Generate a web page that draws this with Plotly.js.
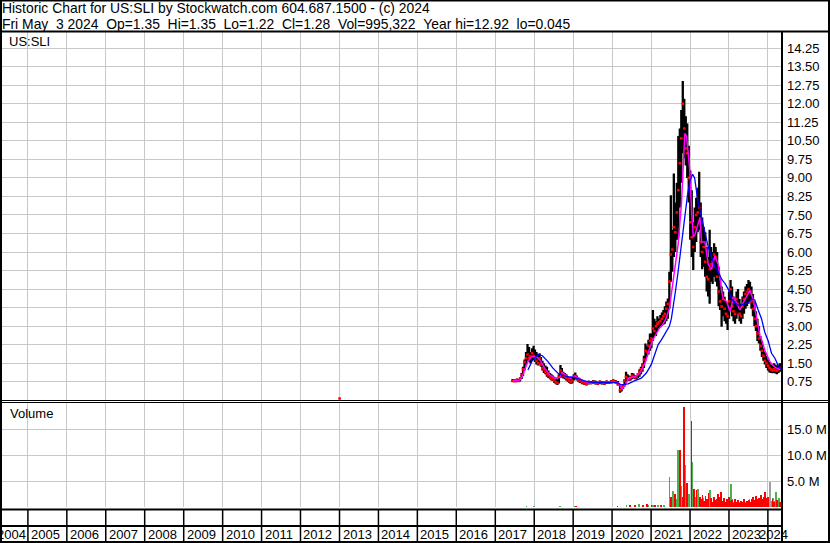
<!DOCTYPE html>
<html><head><meta charset="utf-8">
<script src="https://cdn.plot.ly/plotly-3.0.1.min.js"></script>
<style>html,body{margin:0;padding:0;background:#fff;overflow:hidden}#chart{width:830px;height:543px}</style>
</head><body><div id="chart"></div>
<script>
// ---------- text ----------
const headerLine1 = 'Historic Chart for US:SLI by Stockwatch.com 604.687.1500 - (c) 2024';
const headerLine2 = 'Fri May  3 2024  Op=1.35  Hi=1.35  Lo=1.22  Cl=1.28  Vol=995,322  Year hi=12.92  lo=0.045';
const symbolLabel = 'US:SLI';
const volumeLabel = 'Volume';
const yearLabels = ['2004','2005','2006','2007','2008','2009','2010','2011','2012','2013','2014','2015','2016','2017','2018','2019','2020','2021','2022','2023','2024'];
const xStart = '2004-05-03';
const xEnd = '2024-05-03';
const priceTicks = [0.75,1.5,2.25,3,3.75,4.5,5.25,6,6.75,7.5,8.25,9,9.75,10.5,11.25,12,12.75,13.5,14.25];
const volTicks = [5e6,10e6,15e6];
const volTickText = ['5.0 M','10.0 M','15.0 M'];

// ---------- price bars ----------
const barDates = ['2017-06-12','2017-06-26','2017-07-10','2017-07-24','2017-08-07','2017-08-21','2017-09-05','2017-09-18','2017-10-02','2017-10-16','2017-10-30','2017-11-13','2017-11-27','2017-12-11','2017-12-26',
'2018-01-08','2018-01-22','2018-02-05','2018-02-20','2018-03-05','2018-03-19','2018-04-02','2018-04-16','2018-04-30','2018-05-14','2018-05-29','2018-06-11','2018-06-25','2018-07-09','2018-07-23','2018-08-06','2018-08-20','2018-09-04','2018-09-17','2018-10-01','2018-10-15','2018-10-29','2018-11-12','2018-11-26','2018-12-10','2018-12-24',
'2019-01-07','2019-01-21','2019-02-04','2019-02-19','2019-03-04','2019-03-25','2019-04-15','2019-05-06','2019-05-27','2019-06-17','2019-07-08','2019-07-29','2019-08-19','2019-09-09','2019-09-30','2019-10-21','2019-11-11','2019-12-02','2019-12-23',
'2020-01-13','2020-02-03','2020-02-24','2020-03-16','2020-03-30','2020-04-13','2020-04-27','2020-05-11','2020-05-25','2020-06-08','2020-06-22','2020-07-06','2020-07-20','2020-08-03','2020-08-17','2020-08-31','2020-09-14','2020-09-28','2020-10-12','2020-10-26','2020-11-09','2020-11-23','2020-12-07','2020-12-21',
'2021-01-04','2021-01-18','2021-02-01','2021-02-15','2021-03-01','2021-03-15','2021-03-29','2021-04-12','2021-04-26','2021-05-10','2021-05-24','2021-06-07','2021-06-21','2021-07-05','2021-07-19','2021-08-02','2021-08-16','2021-08-30','2021-09-13','2021-09-27','2021-10-11','2021-10-25','2021-11-08','2021-11-22','2021-12-06','2021-12-20',
'2022-01-03','2022-01-17','2022-01-31','2022-02-14','2022-02-28','2022-03-14','2022-03-28','2022-04-11','2022-04-25','2022-05-09','2022-05-23','2022-06-06','2022-06-20','2022-07-04','2022-07-18','2022-08-01','2022-08-15','2022-08-29','2022-09-12','2022-09-26','2022-10-10','2022-10-24','2022-11-07','2022-11-21','2022-12-05','2022-12-19',
'2023-01-02','2023-01-16','2023-01-30','2023-02-13','2023-02-27','2023-03-13','2023-03-27','2023-04-10','2023-04-24','2023-05-08','2023-05-22','2023-06-05','2023-06-19','2023-07-03','2023-07-17','2023-07-31','2023-08-14','2023-08-28','2023-09-11','2023-09-25','2023-10-09','2023-10-23','2023-11-06','2023-11-20','2023-12-04','2023-12-18',
'2024-01-02','2024-01-16','2024-01-30','2024-02-13','2024-02-27','2024-03-12','2024-03-26','2024-04-09','2024-04-23','2024-05-03'];
const barHigh = [0.86,0.85,0.84,0.88,0.86,0.92,1.10,1.35,1.65,1.95,2.28,2.15,1.95,2.10,2.20,
2.05,1.95,1.85,1.90,1.75,1.60,1.50,1.40,1.35,1.20,1.10,1.05,1.00,0.95,0.90,0.85,1.05,1.43,1.30,1.15,1.10,1.05,0.98,0.92,0.85,0.90,
1.05,1.12,1.00,0.92,0.88,0.82,0.78,0.75,0.80,0.78,0.82,0.80,0.76,0.80,0.78,0.76,0.80,0.78,0.82,
0.85,0.82,0.78,0.62,0.55,0.65,0.85,1.15,1.05,1.00,0.98,1.10,1.08,1.00,1.02,1.10,1.25,1.35,1.50,1.80,2.30,2.20,2.45,2.70,
2.70,3.65,3.30,3.20,3.40,3.30,3.45,3.55,3.65,3.80,4.00,4.12,5.20,8.30,6.90,9.18,8.00,8.80,10.70,11.00,11.75,12.92,12.20,11.50,11.20,10.30,
9.30,8.50,7.20,7.80,8.20,8.60,9.25,8.00,7.40,7.00,6.80,6.20,5.80,6.90,6.20,6.00,6.35,6.20,6.00,5.40,4.87,4.60,4.40,4.19,4.00,3.90,
4.40,4.87,4.60,4.20,4.00,4.40,4.50,4.10,3.90,4.20,4.40,4.60,4.70,4.87,4.80,4.60,4.30,4.00,3.60,3.30,3.00,2.60,2.40,2.10,1.95,1.80,
1.65,1.55,1.45,1.40,1.50,1.45,1.40,1.45,1.50,1.35];
const barLow = [0.74,0.73,0.74,0.75,0.74,0.76,0.86,0.98,1.20,1.45,1.60,1.55,1.50,1.60,1.65,
1.55,1.45,1.40,1.45,1.35,1.20,1.10,1.05,0.95,0.90,0.85,0.80,0.78,0.70,0.65,0.62,0.68,0.90,0.95,0.88,0.85,0.80,0.75,0.70,0.66,0.68,
0.80,0.85,0.80,0.75,0.70,0.65,0.62,0.60,0.64,0.65,0.66,0.64,0.62,0.65,0.64,0.62,0.66,0.66,0.68,
0.70,0.68,0.60,0.30,0.35,0.45,0.55,0.75,0.80,0.78,0.80,0.85,0.88,0.85,0.85,0.90,0.95,1.05,1.15,1.30,1.60,1.75,1.85,2.00,
2.10,2.40,2.60,2.60,2.80,2.90,2.95,3.00,3.05,3.10,3.20,3.30,3.70,4.80,5.20,5.80,6.00,6.50,6.60,7.80,8.80,10.00,9.80,9.50,9.00,8.00,
6.50,5.80,5.27,6.00,6.40,6.80,6.90,5.80,5.30,5.40,5.00,4.40,4.20,3.90,4.80,4.70,5.00,4.80,4.60,3.80,3.65,2.97,3.40,3.20,3.10,2.84,
3.30,3.60,3.40,3.20,3.10,3.30,3.50,3.20,3.10,3.30,3.50,3.70,3.80,3.90,4.00,3.70,3.40,3.00,2.80,2.40,2.30,2.00,1.75,1.60,1.45,1.30,
1.20,1.12,1.10,1.09,1.10,1.08,1.05,1.10,1.15,1.22];
const barClose = [0.78,0.80,0.77,0.82,0.78,0.88,1.02,1.25,1.55,1.70,1.85,1.72,1.78,1.90,1.80,
1.70,1.60,1.50,1.70,1.45,1.30,1.25,1.15,1.05,1.00,0.92,0.88,0.85,0.80,0.72,0.70,0.95,1.20,1.10,1.00,0.95,0.90,0.85,0.78,0.72,0.80,
0.95,0.98,0.88,0.82,0.78,0.72,0.68,0.66,0.72,0.70,0.74,0.70,0.68,0.74,0.70,0.68,0.74,0.72,0.76,
0.78,0.74,0.66,0.40,0.48,0.58,0.80,0.95,0.88,0.85,0.92,1.00,0.95,0.92,0.95,1.05,1.15,1.25,1.40,1.65,2.00,1.95,2.20,2.40,
2.50,2.90,2.80,3.00,3.10,3.15,3.20,3.30,3.40,3.50,3.70,3.90,4.80,5.90,6.10,7.00,6.80,7.60,8.50,9.60,10.60,12.00,11.00,10.20,10.00,9.00,
7.20,6.60,6.20,7.00,7.50,7.60,7.80,6.40,6.00,6.20,5.60,5.00,4.90,5.30,5.50,5.60,5.90,5.80,5.00,4.40,4.00,3.80,4.10,3.70,3.50,3.40,
4.00,4.50,3.80,3.60,3.50,4.10,3.90,3.50,3.40,3.80,4.10,4.30,4.40,4.50,4.40,4.00,3.70,3.30,3.00,2.70,2.50,2.20,2.00,1.80,1.60,1.50,
1.40,1.30,1.25,1.20,1.25,1.20,1.18,1.25,1.30,1.28];
const strayDates = ['2013-01-02'];
const strayClose = [0.07];

// ---------- moving averages ----------
const maShortDates = ['2017-06-15','2017-07-20','2017-08-20','2017-09-10','2017-10-05','2017-11-03','2017-12-05','2018-01-22','2018-02-22','2018-04-10','2018-05-27','2018-07-13','2018-08-29','2018-09-20','2018-10-15','2018-12-01','2019-01-18','2019-03-22','2019-05-24','2019-07-26','2019-09-27','2019-11-29','2020-01-15','2020-03-02','2020-04-03','2020-05-04','2020-06-05','2020-07-06','2020-08-07','2020-09-23','2020-11-09','2020-12-11','2021-01-12','2021-02-13','2021-03-17','2021-04-18','2021-05-20','2021-06-21','2021-07-17','2021-08-08','2021-09-11','2021-10-13','2021-10-28','2021-11-13','2021-11-29','2021-12-15','2021-12-30','2022-01-15','2022-01-31','2022-02-16','2022-03-03','2022-04-04','2022-04-19','2022-05-21','2022-06-21','2022-07-22','2022-08-22','2022-09-22','2022-10-08','2022-10-24','2022-11-09','2022-11-24','2022-12-10','2022-12-25','2023-01-10','2023-01-25','2023-02-10','2023-02-25','2023-03-13','2023-04-13','2023-05-15','2023-06-16','2023-07-17','2023-08-18','2023-09-02','2023-09-18','2023-10-03','2023-10-19','2023-11-04','2023-12-05','2024-01-21','2024-03-08','2024-04-24','2024-05-03'];
const maShort = [0.80,0.79,0.82,0.95,1.25,1.56,1.76,1.76,1.63,1.29,1.02,0.89,0.92,1.12,1.05,0.88,0.98,0.82,0.70,0.72,0.72,0.72,0.76,0.70,0.45,0.62,0.90,0.93,0.97,1.12,1.55,2.00,2.40,2.65,2.90,3.05,3.30,3.70,4.60,5.30,6.30,8.00,9.50,10.80,10.70,10.00,9.30,7.70,6.60,6.70,6.90,7.40,6.40,6.40,5.50,5.30,5.85,5.50,5.00,4.40,4.10,4.06,4.00,3.80,3.60,3.80,4.19,4.10,3.95,3.65,3.95,4.19,4.45,4.05,3.65,3.20,2.97,2.60,2.44,2.00,1.55,1.33,1.25,1.28];
const maLongDates = ['2017-11-03','2017-12-13','2018-02-06','2018-03-19','2018-05-10','2018-06-25','2018-08-12','2018-09-27','2018-11-13','2019-01-11','2019-03-18','2019-05-19','2019-07-20','2019-09-21','2019-12-24','2020-02-09','2020-03-28','2020-05-30','2020-07-28','2020-10-01','2020-11-17','2021-01-03','2021-02-04','2021-03-08','2021-04-09','2021-05-26','2021-06-22','2021-07-10','2021-07-29','2021-08-17','2021-09-11','2021-10-13','2021-11-13','2021-12-08','2022-01-01','2022-01-25','2022-02-13','2022-03-18','2022-04-19','2022-05-20','2022-06-21','2022-07-22','2022-08-22','2022-09-22','2022-10-24','2022-11-24','2022-12-25','2023-01-25','2023-02-25','2023-03-28','2023-04-28','2023-05-30','2023-06-30','2023-07-31','2023-08-31','2023-10-02','2023-11-02','2023-12-03','2024-01-04','2024-02-04','2024-03-07','2024-04-07','2024-05-02'];
const maLong = [1.22,1.60,1.85,1.80,1.56,1.30,1.09,1.00,0.95,0.92,0.82,0.74,0.71,0.71,0.71,0.72,0.62,0.66,0.78,0.89,1.10,1.45,1.85,2.25,2.45,2.80,3.00,3.30,3.80,4.40,5.20,6.40,7.40,8.30,8.90,9.15,9.00,8.00,7.40,6.80,6.20,5.80,5.40,5.20,4.90,4.73,4.50,4.10,3.95,3.85,3.85,3.90,3.95,4.10,4.06,3.65,3.30,2.75,2.40,1.90,1.70,1.40,1.25];

// ---------- volume ----------
const volUpDates = ['2017-10-20','2018-01-02','2018-09-01','2019-01-15','2020-05-15','2020-09-10','2020-12-01','2021-01-20','2021-03-10','2021-05-01','2021-06-23','2021-07-27','2021-08-27','2021-09-12','2021-10-13','2021-11-19','2021-12-20','2022-01-24','2022-02-21','2022-03-18',
'2022-04-21','2022-05-05','2022-05-19','2022-06-02','2022-06-16','2022-07-07','2022-07-21','2022-08-04','2022-08-18','2022-09-01','2022-09-15','2022-09-29','2022-10-13','2022-10-27','2022-11-10','2022-11-24','2022-12-08','2022-12-22','2023-01-05','2023-01-20','2023-01-26','2023-02-09','2023-02-23','2023-03-09','2023-03-23','2023-04-06','2023-04-20','2023-05-04','2023-05-18','2023-06-01','2023-06-15','2023-06-29','2023-07-13','2023-07-27','2023-08-10','2023-08-24','2023-09-07','2023-09-21','2023-10-05','2023-10-19','2023-11-02','2023-11-16','2023-11-30','2023-12-14','2023-12-28','2024-01-11','2024-02-06','2024-02-20','2024-03-06','2024-03-15','2024-04-04','2024-04-15','2024-05-02'];
const volUp = [0.2,0.2,0.2,0.15,0.3,0.56,0.3,0.35,0.3,0.4,5.8,3.0,1.5,11.0,4.0,8.1,2.5,8.7,2.0,3.5,
1.0,1.8,0.8,1.2,1.0,3.3,1.4,0.9,1.5,0.8,1.1,0.7,1.3,0.9,1.6,0.8,1.0,0.7,1.2,4.4,1.6,1.0,1.3,0.8,1.4,0.9,1.1,0.7,1.3,1.0,0.6,1.2,1.6,1.0,0.8,1.2,0.9,1.3,0.7,1.0,0.8,1.1,0.9,1.2,0.8,1.4,1.1,1.8,1.2,2.9,1.0,1.8,0.9];
const volDownDates = ['2019-01-25','2020-02-20','2020-06-20','2020-08-05','2020-10-15','2020-11-20','2021-01-05','2021-02-10','2021-04-01','2021-07-10','2021-08-12','2021-09-27','2021-10-25','2021-11-06','2021-12-03','2022-01-15','2022-02-09','2022-03-03','2022-04-03',
'2022-04-14','2022-04-28','2022-05-12','2022-05-26','2022-06-09','2022-06-23','2022-07-14','2022-07-28','2022-08-11','2022-08-25','2022-09-08','2022-09-22','2022-10-06','2022-10-20','2022-11-03','2022-11-17','2022-12-01','2022-12-15','2022-12-29','2023-01-12','2023-02-02','2023-02-16','2023-03-02','2023-03-16','2023-03-30','2023-04-13','2023-04-27','2023-05-11','2023-05-25','2023-06-08','2023-06-22','2023-07-06','2023-07-20','2023-08-03','2023-08-17','2023-08-31','2023-09-14','2023-09-28','2023-10-12','2023-10-26','2023-11-09','2023-11-23','2023-12-07','2023-12-21','2024-01-04','2024-01-18','2024-02-13','2024-02-27','2024-03-28','2024-04-25'];
const volDown = [0.15,0.2,0.35,0.4,0.3,0.5,0.4,0.3,0.3,2.0,2.5,11.0,2.0,19.2,4.6,16.5,3.5,3.2,2.0,
1.6,2.4,1.2,2.2,1.5,2.6,1.8,1.0,2.0,1.3,1.6,2.5,1.9,2.8,1.2,1.7,0.9,1.5,2.0,1.1,1.4,0.8,1.6,1.0,1.3,0.7,1.2,0.9,1.5,0.8,1.1,1.4,0.9,1.6,1.9,1.3,2.2,1.5,1.8,2.4,1.6,2.0,2.9,1.7,2.0,1.2,1.5,1.0,1.3,0.9];
const volFlatDates = ['2024-01-24'];
const volFlat = [4.8];

// ---------- build ----------
const PX = x => (x - 2) / 779;     // pixel -> paper x
const PY = y => (510 - y) / 478;   // pixel -> paper y
const M = 1e6;
const DAY = 86400000;

const segX = [], segY = [];
barDates.forEach((d, i) => { segX.push(d, d, null); segY.push(barLow[i], barHigh[i], null); });

const traces = [
  {type:'scatter', mode:'lines', x:segX, y:segY, xaxis:'x', yaxis:'y', line:{color:'#000', width:2.3}, hoverinfo:'skip'},
  {type:'scatter', mode:'markers', x:barDates.concat(strayDates), y:barClose.concat(strayClose), xaxis:'x', yaxis:'y',
   marker:{symbol:'square', size:2.6, color:'#ff0000', line:{width:0}}, hoverinfo:'skip'},
  {type:'scatter', mode:'lines', x:maShortDates, y:maShort, xaxis:'x', yaxis:'y', line:{color:'#ff00ff', width:1.5}, hoverinfo:'skip'},
  {type:'scatter', mode:'lines', x:maLongDates, y:maLong, xaxis:'x', yaxis:'y', line:{color:'#0000ff', width:1.3}, hoverinfo:'skip'},
  {type:'bar', x:volUpDates, y:volUp.map(v => v * M), xaxis:'x', yaxis:'y2', width:17 * DAY, marker:{color:'#4cb04c', line:{width:0}}, hoverinfo:'skip'},
  {type:'bar', x:volDownDates, y:volDown.map(v => v * M), xaxis:'x', yaxis:'y2', width:17 * DAY, marker:{color:'#ff0000', line:{width:0}}, hoverinfo:'skip'},
  {type:'bar', x:volFlatDates, y:volFlat.map(v => v * M), xaxis:'x', yaxis:'y2', width:17 * DAY, marker:{color:'#a0a0a0', line:{width:0}}, hoverinfo:'skip'}
];

const black = {color:'#000', width:2};
const shapes = [
  {type:'rect', xref:'paper', yref:'paper', x0:PX(1), x1:PX(829), y0:PY(0.5), y1:PY(542), line:black},
  {type:'line', xref:'paper', yref:'paper', x0:PX(0), x1:PX(830), y0:PY(31.5), y1:PY(31.5), line:black},
  {type:'line', xref:'paper', yref:'paper', x0:PX(782), x1:PX(782), y0:PY(31), y1:PY(543), line:black},
  {type:'line', xref:'paper', yref:'paper', x0:PX(0), x1:PX(830), y0:PY(400.5), y1:PY(400.5), line:{color:'#000', width:1}},
  {type:'line', xref:'paper', yref:'paper', x0:PX(0), x1:PX(830), y0:PY(402.5), y1:PY(402.5), line:{color:'#000', width:1}},
  {type:'line', xref:'paper', yref:'paper', x0:PX(0), x1:PX(782), y0:PY(509.5), y1:PY(509.5), line:black},
  {type:'line', xref:'paper', yref:'paper', x0:PX(0), x1:PX(782), y0:PY(526), y1:PY(526), line:black}
];
yearLabels.slice(1).forEach(yr => {
  shapes.push({type:'line', xref:'x', yref:'paper', x0:yr + '-01-01', x1:yr + '-01-01', y0:PY(510), y1:PY(542), line:{color:'#000', width:1.5}});
});

const txt = s => s.replace(/ {2}/g, ' \u00a0');
const annFont = {family:'"Liberation Sans", Arial, sans-serif', size:13, color:'#000'};
const headFont = {family:'"Liberation Sans", Arial, sans-serif', size:13.9, color:'#000'};
const annotations = [
  {xref:'paper', yref:'paper', x:PX(1), y:PY(7.6), xanchor:'left', yanchor:'middle', borderpad:0, showarrow:false, text:txt(headerLine1), font:headFont},
  {xref:'paper', yref:'paper', x:PX(1), y:PY(23.6), xanchor:'left', yanchor:'middle', borderpad:0, showarrow:false, text:txt(headerLine2), font:headFont},
  {xref:'paper', yref:'paper', x:PX(7), y:PY(41.5), xanchor:'left', yanchor:'middle', showarrow:false, text:symbolLabel, font:annFont},
  {xref:'paper', yref:'paper', x:PX(8), y:PY(413), xanchor:'left', yanchor:'middle', showarrow:false, text:volumeLabel, font:annFont}
];
yearLabels.forEach((yr, i) => {
  let x = yr + '-01-01', anchor = 'left', shift = 2;
  if (i === 0) { x = yearLabels[1] + '-01-01'; anchor = 'right'; shift = -1; }
  if (i === yearLabels.length - 1) { x = '2024-05-02'; anchor = 'right'; shift = 8; }
  annotations.push({xref:'x', yref:'paper', x:x, y:PY(534), xanchor:anchor, yanchor:'middle', xshift:shift, borderpad:0, showarrow:false, text:yr, font:annFont});
});

const grid = '#c8c8c8';
const layout = {
  width:830, height:543,
  margin:{l:2, r:49, t:32, b:33, pad:0},
  paper_bgcolor:'#fff', plot_bgcolor:'#fff',
  showlegend:false, barmode:'overlay', bargap:0,
  font:{family:'"Liberation Sans", Arial, sans-serif', size:13, color:'#000'},
  xaxis:{type:'date', range:[xStart, xEnd], tick0:'2005-01-01', dtick:'M12', showgrid:true, gridcolor:grid, gridwidth:1,
         showticklabels:false, ticks:'', zeroline:false, showline:false, anchor:'y2', fixedrange:true},
  yaxis:{domain:[PY(400.2), 1], range:[0, (400.2 - 32) / 24.7], tickvals:priceTicks, ticktext:priceTicks.map(v => v.toFixed(2)),
         side:'right', showgrid:true, gridcolor:grid, gridwidth:1, zeroline:false, showline:false, ticks:'', ticklabelstandoff:5, anchor:'x'},
  yaxis2:{domain:[PY(507), PY(403)], range:[0, 20e6], tickvals:volTicks, ticktext:volTickText,
          side:'right', showgrid:true, gridcolor:grid, gridwidth:1, zeroline:false, showline:false, ticks:'', ticklabelstandoff:5, anchor:'x'},
  shapes:shapes,
  annotations:annotations
};

Plotly.newPlot('chart', traces, layout, {staticPlot:true, displayModeBar:false});
</script>
</body></html>
